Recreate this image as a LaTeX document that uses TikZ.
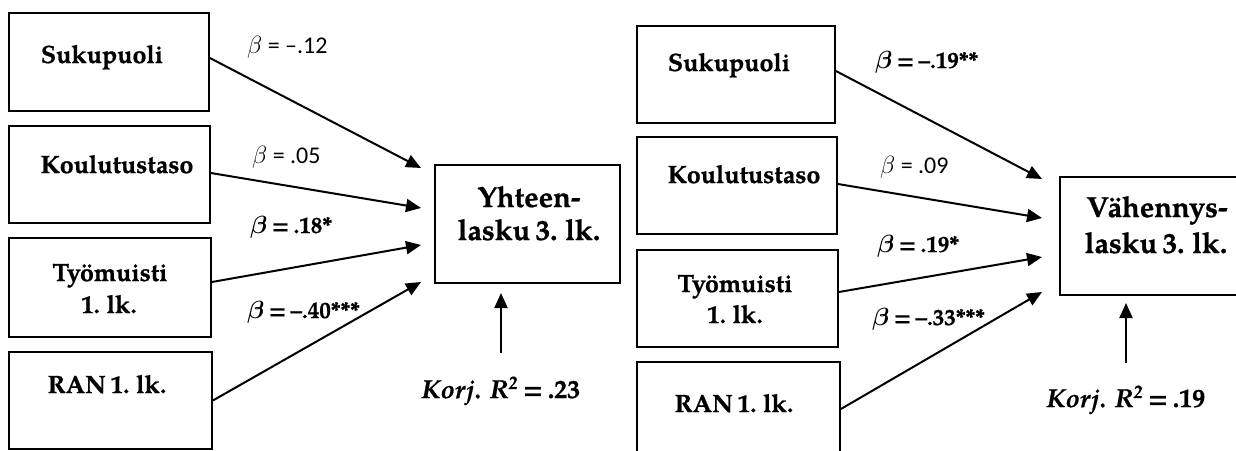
\documentclass[tikz,border=0pt]{standalone}
\usepackage{fontspec}
\usepackage{amsmath}
\setmainfont{TeX Gyre Pagella}[BoldFeatures={FakeBold=0.8,WordSpace=0.75},BoldItalicFeatures={FakeBold=0.8}]
\newfontfamily\calib{Carlito}
\usetikzlibrary{arrows.meta}
\tikzset{
  box/.style={draw=black, line width=1.8pt, inner sep=0pt, fill=white},
  boxtxt/.style={font=\fontsize{25}{30}\selectfont\bfseries, inner sep=0pt, anchor=base},
  outtxt/.style={font=\fontsize{29}{34}\selectfont\bfseries, inner sep=0pt, anchor=base},
  betan/.style={font=\fontsize{24}{28}\selectfont\calib, inner sep=0pt, anchor=base west},
  betab/.style={font=\fontsize{23}{26}\selectfont\bfseries, inner sep=0pt, anchor=base west},
  rtxt/.style={font=\fontsize{26}{30}\selectfont\bfseries, inner sep=0pt, anchor=base},
  arr/.style={line width=2pt, -{Triangle[length=15pt,width=13pt]}},
}
\begin{document}
\begin{tikzpicture}[x=1pt,y=-1pt]
\clip (0,0) rectangle (1236,450);
\fill[white] (0,0) rectangle (1236,450);

% ---------- left model ----------
\node[box, minimum width=200pt, minimum height=98pt] (s1) at (109,62) {};
\node[box, minimum width=201pt, minimum height=97pt] (k1) at (109.5,174.5) {};
\node[box, minimum width=202pt, minimum height=99pt] (t1) at (110,287.5) {};
\node[box, minimum width=203pt, minimum height=97pt] (r1) at (110.5,400.5) {};
\node[box, minimum width=185pt, minimum height=118pt] (y1) at (527.5,224) {};

\node[boxtxt] (s1t) at (102,63) {Sukupuoli};
\node[boxtxt] (k1t) at (117,173) {Koulutustaso};
\node[boxtxt] (t1a) at (110,281) {Työmuisti};
\node[boxtxt] (t1b) at (109,313) {1. lk.};
\node[boxtxt] (r1t) at (107,393) {RAN 1. lk.};
\node[outtxt] (y1a) at (529,207) {Yhteen-};
\node[outtxt] (y1b) at (529,240) {lasku 3. lk.};

\coordinate (ya1) at (421,168);
\coordinate (ya2) at (421,208);
\coordinate (ya3) at (421,245);
\coordinate (ya4) at (421,282);
\draw[arr] ([yshift=4pt]s1.east) -- (ya1);
\draw[arr] ([yshift=1.5pt]k1.east) -- (ya2);
\draw[arr] ([yshift=5.5pt]t1.east) -- (ya3);
\draw[arr] (r1.east) -- (ya4);

\node[betan] (b11) at (247,53) {$\beta$ = –.12};
\node[betan] (b12) at (252,163) {$\beta$ = .05};
\node[betab] (b13) at (250,233) {$\boldsymbol{\beta}$ = .18*};
\node[betab] (b14) at (247,318) {$\boldsymbol{\beta}$ = –.40***};

\coordinate (ru1) at (501,353);
\coordinate (rt1) at (501,293);
\draw[arr] (ru1) -- (rt1);
\node[rtxt] (k1r) at (501,398) {\itshape Korj. R\textsuperscript{2}\upshape{} = .23};

% ---------- right model ----------
\node[box, minimum width=198pt, minimum height=97pt] (s2) at (736,74.5) {};
\node[box, minimum width=200pt, minimum height=97pt] (k2) at (737,185.5) {};
\node[box, minimum width=201pt, minimum height=97pt] (t2) at (737.5,298.5) {};
\node[box, minimum width=203pt, minimum height=98pt] (r2) at (738.5,411) {};
\node[box, minimum width=200pt, minimum height=118pt] (v2) at (1160,236) {};

\node[boxtxt] (s2t) at (729,71) {Sukupuoli};
\node[boxtxt] (k2t) at (744,183) {Koulutustaso};
\node[boxtxt] (t2a) at (735,292) {Työmuisti};
\node[boxtxt] (t2b) at (735,323) {1. lk.};
\node[boxtxt] (r2t) at (734,412) {RAN 1. lk.};
\node[outtxt] (v2a) at (1157,217) {Vähennys-};
\node[outtxt] (v2b) at (1156,253) {lasku 3. lk.};

\coordinate (va1) at (1042,179);
\coordinate (va2) at (1042,218);
\coordinate (va3) at (1042,257);
\coordinate (va4) at (1042,292);
\draw[arr] ([yshift=3.5pt]s2.east) -- (va1);
\draw[arr] ([yshift=1.5pt]k2.east) -- (va2);
\draw[arr] ([yshift=6.5pt]t2.east) -- (va3);
\draw[arr] ([yshift=2pt]r2.east) -- (va4);

\node[betab] (b21) at (875,68) {$\boldsymbol{\beta}$ = –.19**};
\node[betan] (b22) at (880,173) {$\beta$ = .09};
\node[betab] (b23) at (877,252) {$\boldsymbol{\beta}$ = .19*};
\node[betab] (b24) at (872,325) {$\boldsymbol{\beta}$ = –.33***};

\coordinate (ru2) at (1126,363);
\coordinate (rt2) at (1126,303);
\draw[arr] (ru2) -- (rt2);
\node[rtxt] (k2r) at (1126,407) {\itshape Korj. R\textsuperscript{2}\upshape{} = .19};
\end{tikzpicture}
\end{document}
